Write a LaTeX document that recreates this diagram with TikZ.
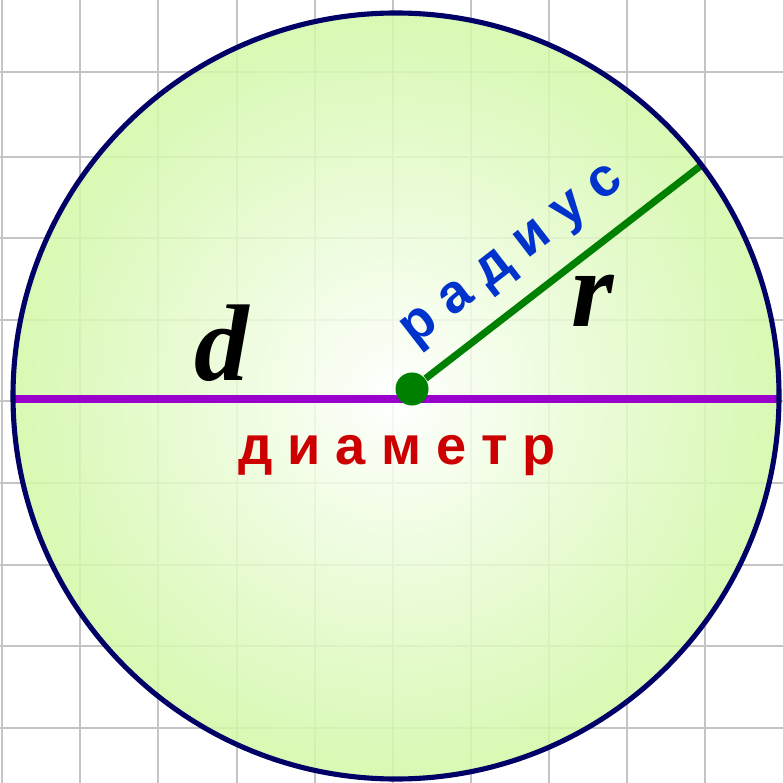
\documentclass[tikz,border=0pt]{standalone}
\usepackage{fontspec}
\setmainfont{Liberation Serif}
\setsansfont{Liberation Sans}
\usetikzlibrary{positioning}
\definecolor{rimblue}{HTML}{000066}
\definecolor{diamviolet}{HTML}{9900CC}
\definecolor{radgreen}{HTML}{008000}
\definecolor{lblred}{HTML}{CC0000}
\definecolor{lblblue}{HTML}{0033CC}
\definecolor{diskgreen}{HTML}{D2F8A6}
\definecolor{gridgray}{HTML}{C4C4C4}

\begin{document}
\begin{tikzpicture}[x=0.01cm, y=-0.01cm]
\tikzstyle{word}=[font=\sffamily\bfseries\fontsize{15.4}{18}\selectfont, inner sep=0pt]
\tikzstyle{letter}=[font=\bfseries\itshape\fontsize{31}{36}\selectfont, inner sep=0pt, text=black]
\tikzstyle{seg}=[line width=2pt]
\useasboundingbox (0,0) rectangle (783,783);
\fill[white] (0,0) rectangle (783,783);
% squared paper
\foreach \x in {2,80,158,237,315,393,471,549,627,705}
  \draw[gridgray, line width=0.6pt] (\x,0) -- (\x,783);
\foreach \y in {72,157,238,320,401,483,565,646,728}
  \draw[gridgray, line width=0.6pt] (0,\y) -- (783,\y);
% disk
\shade[inner color=white, outer color=diskgreen, fill opacity=0.85] (396,396) circle (383);
\coordinate (dl) at (15,399);
\coordinate (dr) at (779,399);
\coordinate (re) at (703,164);
\draw[seg, diamviolet] (dl) -- node[pos=0.27, above=0.14cm, letter] (dlbl) {d}
  node[pos=0.5, below=0.33cm, word, text=lblred] (dword) {д и а м е т р} (dr);
\node[circle, fill=radgreen, minimum size=0.33cm, inner sep=0pt] (ctr) at (412,389) {};
\draw[seg, radgreen] (ctr) -- node[pos=0.41, sloped, above=0.17cm, word, text=lblblue] (rword) {р а д и у с} (re);
\node[letter, anchor=base] (rlbl) at (593,327) {r};
\draw[rimblue, line width=1.45pt] (396,396) circle (383);
\end{tikzpicture}
\end{document}
